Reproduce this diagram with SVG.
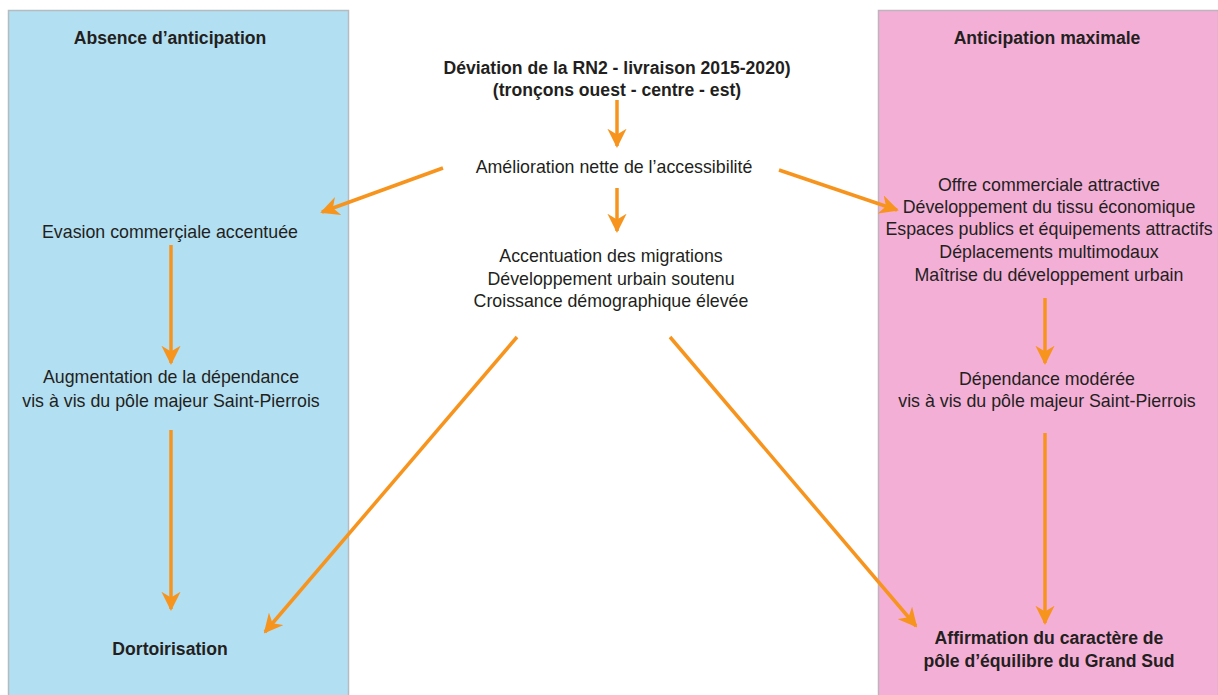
<svg xmlns="http://www.w3.org/2000/svg" width="1218" height="695" viewBox="0 0 1218 695">
<style>
.t{font-family:"Liberation Sans",Arial,sans-serif;font-size:17.8px;fill:#231f20;text-anchor:middle}
.b{font-weight:bold;font-size:17.6px}
.a{stroke:#f7941d;stroke-width:3.5;fill:none;marker-end:url(#ah)}
</style>
<defs>
<marker id="ah" viewBox="0 0 10 10" refX="9" refY="5" markerWidth="5.5" markerHeight="5.5" orient="auto" markerUnits="strokeWidth">
<path d="M0,0 L10,5 L0,10 L3,5 z" fill="#f7941d"/>
</marker>
</defs>
<rect width="1218" height="695" fill="#ffffff"/>
<g id="panel-left">
<rect x="8.5" y="10.5" width="340" height="690" fill="#b3dff3" stroke="#b5bcc0" stroke-width="1.5"/>
<text class="t b" x="170" y="44">Absence d’anticipation</text>
</g>
<g id="panel-right">
<rect x="878.5" y="10.5" width="340" height="690" fill="#f4afd7" stroke="#c0b4bc" stroke-width="1.5"/>
<text class="t b" x="1047" y="44">Anticipation maximale</text>
</g>
<g id="n-deviation">
<text class="t b" x="617" y="74">Déviation de la RN2 - livraison 2015-2020)</text>
<text class="t b" x="617" y="96">(tronçons ouest - centre - est)</text>
</g>
<g id="n-amelioration"><text class="t" x="614" y="173">Amélioration nette de l’accessibilité</text></g>
<g id="n-evasion"><text class="t" x="170" y="238">Evasion commerçiale accentuée</text></g>
<g id="n-migrations">
<text class="t" x="611" y="262">Accentuation des migrations</text>
<text class="t" x="611" y="285">Développement urbain soutenu</text>
<text class="t" x="611" y="307">Croissance démographique élevée</text>
</g>
<g id="n-offre">
<text class="t" x="1049" y="191">Offre commerciale attractive</text>
<text class="t" x="1049" y="213">Développement du tissu économique</text>
<text class="t" x="1049" y="235">Espaces publics et équipements attractifs</text>
<text class="t" x="1049" y="258">Déplacements multimodaux</text>
<text class="t" x="1049" y="281">Maîtrise du développement urbain</text>
</g>
<g id="n-augmentation">
<text class="t" x="171" y="383">Augmentation de la dépendance</text>
<text class="t" x="171" y="407">vis à vis du pôle majeur Saint-Pierrois</text>
</g>
<g id="n-dependance">
<text class="t" x="1047" y="385">Dépendance modérée</text>
<text class="t" x="1047" y="407">vis à vis du pôle majeur Saint-Pierrois</text>
</g>
<g id="n-dortoirisation"><text class="t b" x="170" y="655">Dortoirisation</text></g>
<g id="n-affirmation">
<text class="t b" x="1049" y="644">Affirmation du caractère de</text>
<text class="t b" x="1049" y="667">pôle d’équilibre du Grand Sud</text>
</g>
<g id="connectors">
<line class="a" x1="617" y1="100" x2="617" y2="146"/>
<line class="a" x1="443" y1="168" x2="322" y2="212"/>
<line class="a" x1="779" y1="170" x2="897" y2="210"/>
<line class="a" x1="617" y1="188" x2="617" y2="231"/>
<line class="a" x1="171" y1="245" x2="171" y2="363"/>
<line class="a" x1="171" y1="430" x2="171" y2="609"/>
<line class="a" x1="517" y1="337" x2="265" y2="632"/>
<line class="a" x1="670" y1="337" x2="916" y2="626"/>
<line class="a" x1="1045" y1="298" x2="1045" y2="363"/>
<line class="a" x1="1045" y1="433" x2="1045" y2="623"/>
</g>
</svg>
